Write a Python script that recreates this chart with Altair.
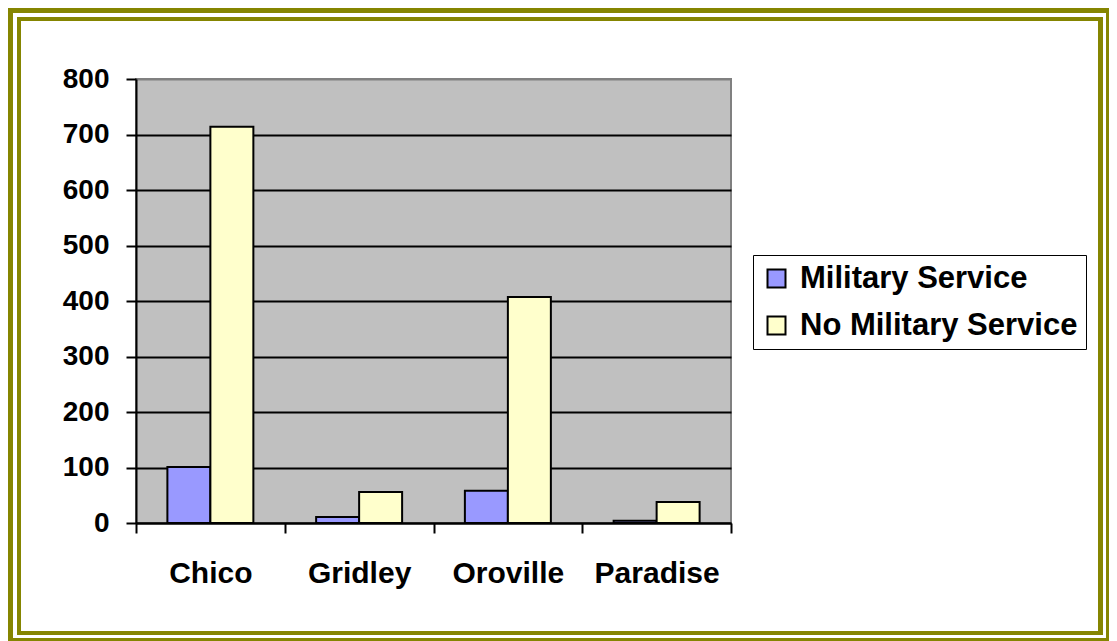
import altair as alt
import pandas as pd

cities = ["Chico", "Gridley", "Oroville", "Paradise"]
series = ["Military Service", "No Military Service"]
military = [101, 11, 58, 4]
no_military = [714, 56, 407, 38]
y_ticks = [0, 100, 200, 300, 400, 500, 600, 700, 800]
colors = ["#9999FF", "#FFFFCC"]

rows = []
for c, m, n in zip(cities, military, no_military):
    rows.append({"city": c, "series": series[0], "value": m})
    rows.append({"city": c, "series": series[1], "value": n})
df = pd.DataFrame(rows)

FONT = "Liberation Sans"
OX, OY = 136, 79  # page position of plot origin
PW, PH = 595, 444
TOTAL_W, TOTAL_H = 1101, 633

bars = alt.Chart(df).mark_bar(stroke="black", strokeWidth=2).encode(
    x=alt.X("city:N", sort=cities, title=None,
            scale=alt.Scale(paddingInner=0, paddingOuter=0),
            axis=alt.Axis(labelAngle=0, labelFont=FONT, labelFontSize=30,
                          labelFontWeight="bold", labelColor="black",
                          labelPadding=25, tickBand="extent", tickSize=10,
                          tickWidth=2, tickColor="black", domainColor="black",
                          domainWidth=2, grid=False)),
    xOffset=alt.XOffset("series:N", sort=series,
                        scale=alt.Scale(paddingOuter=0.73, paddingInner=0)),
    y=alt.Y("value:Q", title=None,
            scale=alt.Scale(domain=[0, 800], nice=False),
            axis=alt.Axis(values=y_ticks, labelFont=FONT, labelFontSize=28,
                          labelFontWeight="bold", labelColor="black",
                          labelPadding=17, tickSize=10, tickWidth=2,
                          tickColor="black", domainColor="black", domainWidth=2,
                          gridColor={"condition": {"test": "datum.value === 800", "value": "#808080"}, "value": "black"},
                          gridWidth=2)),
    color=alt.Color("series:N", sort=series,
                    scale=alt.Scale(domain=series, range=colors),
                    legend=alt.Legend(title=None, orient="none",
                                      legendX=753 - OX, legendY=255 - OY,
                                      symbolType="square", symbolSize=324,
                                      symbolStrokeColor="black", symbolStrokeWidth=2,
                                      labelFont=FONT, labelFontSize=31,
                                      labelFontWeight="bold", labelColor="black",
                                      labelLimit=600,
                                      labelOffset=8, rowPadding=15, padding=8,
                                      strokeColor="black", fillColor="white")),
)

OLIVE = "#858500"

def strip(x1, y1, x2, y2):
    return alt.Chart(pd.DataFrame({"k": [0]})).mark_rect(color=OLIVE).encode(
        x=alt.value(x1 - OX), x2=alt.value(x2 - OX),
        y=alt.value(y1 - OY), y2=alt.value(y2 - OY))

R = 8 + TOTAL_W   # right edge of drawable page area
B = 8 + TOTAL_H   # bottom edge of drawable page area
frame = [
    strip(5, 5, R, 13),
    strip(5, 5, 13, B),
    strip(R - 3, 5, R, B),
    strip(5, B - 3, R, B),
    strip(17, 17, R - 6, 21),
    strip(17, 17, 21, B - 6),
    strip(R - 11, 17, R - 6, B - 6),
    strip(17, B - 10, R - 6, B - 6),
]

chart = alt.layer(bars, *frame).properties(
    width=PW, height=PH,
    autosize=alt.AutoSizeParams(type="none"),
    padding={"left": OX - 8, "top": OY - 8,
             "right": TOTAL_W - (OX - 8) - PW,
             "bottom": TOTAL_H - (OY - 8) - PH},
    background="white",
).configure_view(fill="#C0C0C0", stroke="#808080", strokeWidth=2)

chart.save("out.html", embed_options={"renderer": "svg", "actions": False})
